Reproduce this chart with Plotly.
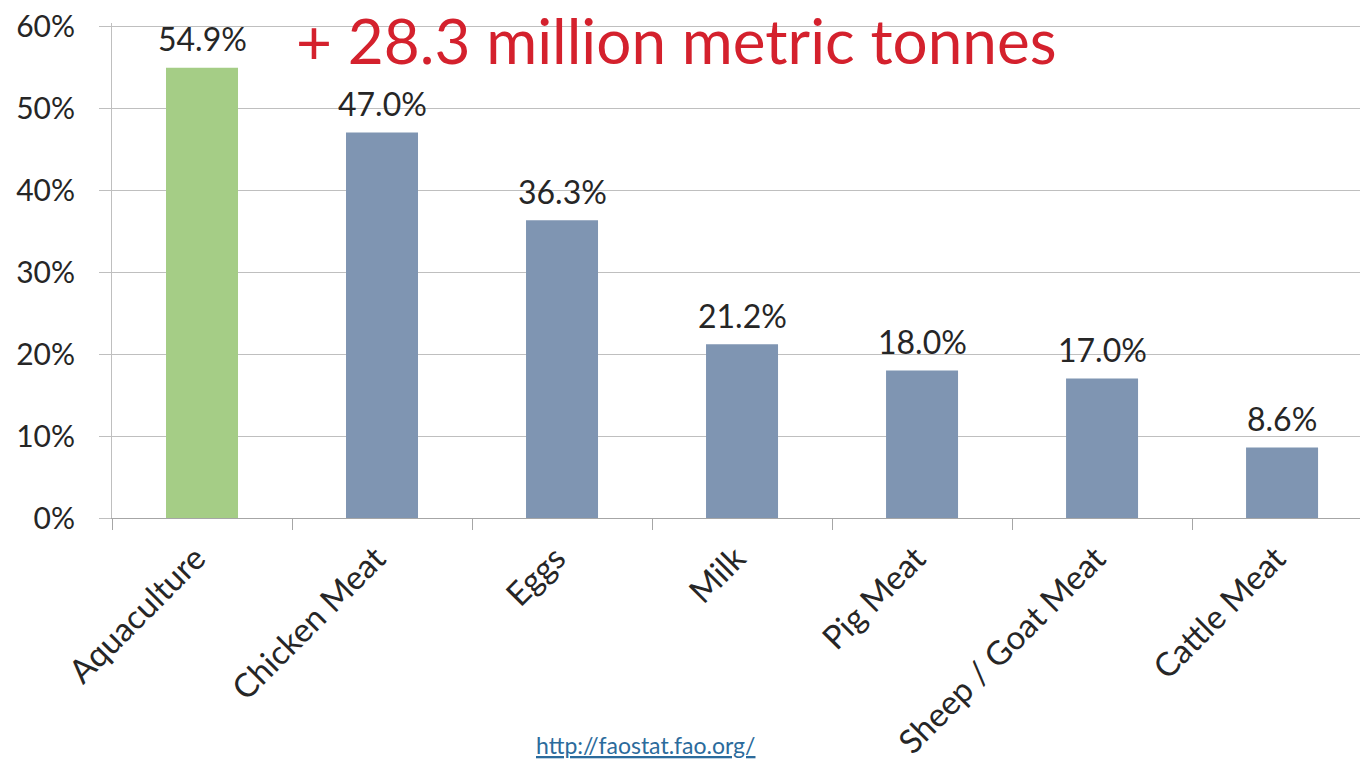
import plotly.graph_objects as go

categories = ["Aquaculture", "Chicken Meat", "Eggs", "Milk", "Pig Meat",
              "Sheep / Goat Meat", "Cattle Meat"]
values = [54.9, 47.0, 36.3, 21.2, 18.0, 17.0, 8.6]
labels = ["54.9%", "47.0%", "36.3%", "21.2%", "18.0%", "17.0%", "8.6%"]
bar_colors = ["#a5cd86", "#7f95b2", "#7f95b2", "#7f95b2", "#7f95b2", "#7f95b2", "#7f95b2"]
y_ticks = [0, 10, 20, 30, 40, 50, 60]
y_tick_labels = ["0%", "10%", "20%", "30%", "40%", "50%", "60%"]

FONT = "Lato"
W, H = 1360, 765
ML, MR, MT = 112, 0, 23
MB = 247
plot_w = W - ML - MR
plot_h = H - MT - MB          # 495 px; 60% sits 3 px below the top edge
Y_TOP = 60 * plot_h / 492


def px_to_paper(px, py):
    return (px - ML) / plot_w, (H - py - MB) / plot_h


fig = go.Figure()
fig.add_trace(go.Bar(
    x=categories, y=values, width=0.4,
    marker=dict(color=bar_colors, line=dict(width=0)),
    hoverinfo="x+y",
))

annotations = []
for c, v, t in zip(categories, values, labels):
    annotations.append(dict(
        x=c, y=v, xref="x", yref="y", text=t, showarrow=False,
        yanchor="middle", xanchor="center", yshift=29,
        font=dict(family=FONT, size=32, color="#262626"),
    ))

tx, ty = px_to_paper(676, 40)
annotations.append(dict(
    text="+ 28.3 million metric tonnes", x=tx, y=ty,
    xref="paper", yref="paper", showarrow=False,
    font=dict(family=FONT, size=62, color="#d4212d"),
    xanchor="center", yanchor="middle"))
ux, uy = px_to_paper(645, 745)
annotations.append(dict(
    text="<u>http://faostat.fao.org/</u>", x=ux, y=uy,
    xref="paper", yref="paper", showarrow=False,
    font=dict(family=FONT, size=23, color="#2b6b9c"),
    xanchor="center", yanchor="middle"))

fig.update_layout(
    width=W, height=H,
    margin=dict(l=ML, r=MR, t=MT, b=MB, autoexpand=False),
    paper_bgcolor="white", plot_bgcolor="white",
    showlegend=False,
    font=dict(family=FONT, color="#262626"),
    annotations=annotations,
)

fig.update_xaxes(
    range=[-0.5, 6.433], tickson="boundaries", ticks="outside", ticklen=11,
    tickcolor="#a6a6a6", showline=True, linecolor="#a6a6a6", linewidth=1,
    tickangle=-45, tickfont=dict(family=FONT, size=33, color="#262626"),
    ticklabelstandoff=7, ticklabelshift=-6,
    showgrid=False, automargin=False,
)
fig.update_yaxes(
    range=[0, Y_TOP], tickvals=y_ticks, ticktext=y_tick_labels,
    ticks="outside", ticklen=12, tickcolor="#bfbfbf",
    showline=True, linecolor="#bfbfbf", linewidth=1,
    showgrid=True, gridcolor="#bfbfbf", gridwidth=1, zeroline=False,
    tickfont=dict(family=FONT, size=30, color="#262626"),
    ticklabelstandoff=18, automargin=False,
)

fig.write_html(
    "out.html",
    config={"displayModeBar": False},
    post_script="document.body.style.margin='0px';document.body.style.overflow='hidden';",
)
